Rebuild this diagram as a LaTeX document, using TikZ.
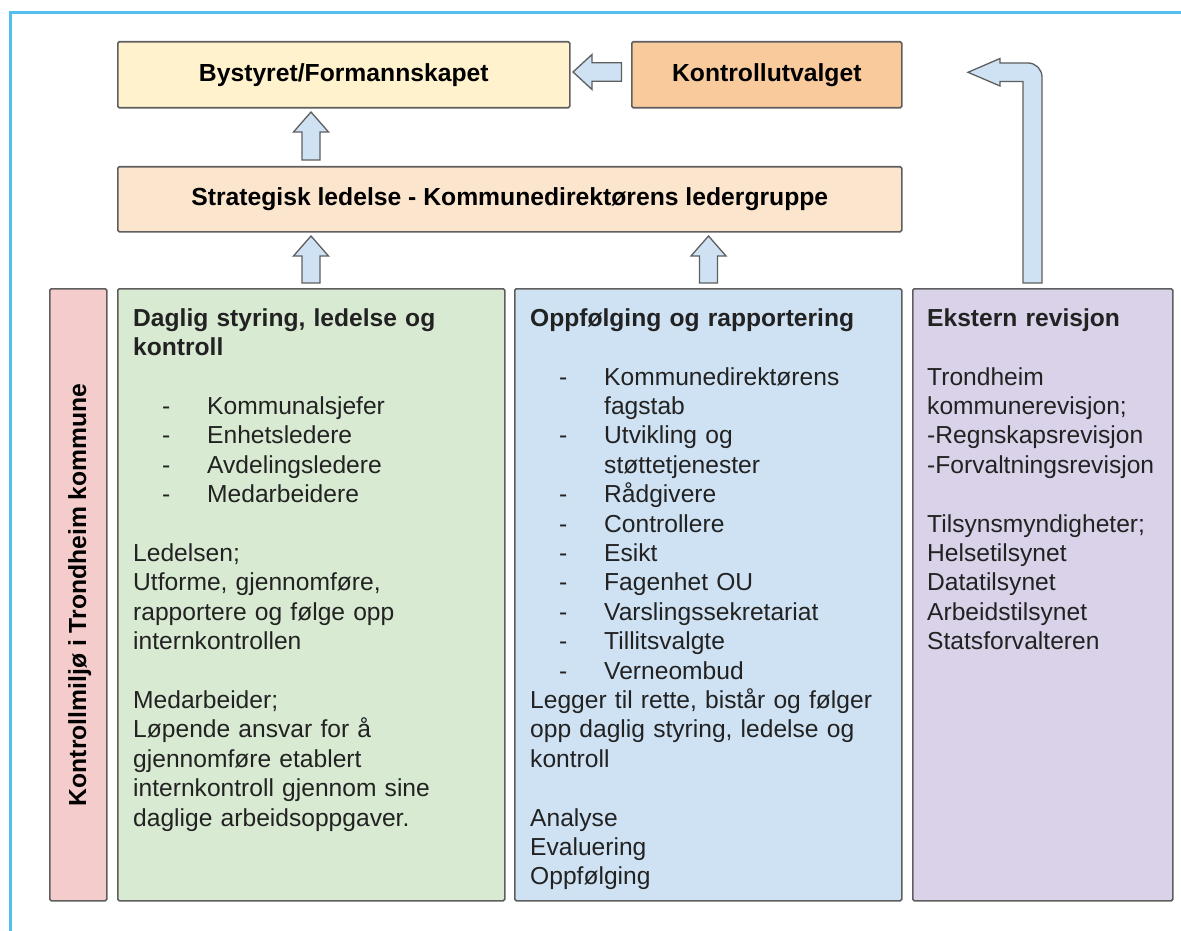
\documentclass[tikz,border=0pt]{standalone}
\usepackage{fontspec}
\setmainfont{Liberation Sans}
\definecolor{frameC}{HTML}{55C0F0}
\definecolor{boxC}{HTML}{5E5E5E}
\definecolor{cYellow}{HTML}{FFF2CC}
\definecolor{cOrange}{HTML}{F9CB9C}
\definecolor{cPeach}{HTML}{FCE5CD}
\definecolor{cPink}{HTML}{F4CCCC}
\definecolor{cGreen}{HTML}{D9EAD3}
\definecolor{cBlue}{HTML}{CFE2F3}
\definecolor{cPurple}{HTML}{D9D2E9}
\definecolor{txtC}{HTML}{222222}
\newcommand\bodyf{\fontsize{24.6}{29.4}\selectfont}
\newcommand\titlef{\fontsize{24.7}{29.4}\selectfont\bfseries}
\newcommand\bl[1]{\makebox[74pt][l]{\hspace{29pt}-}#1}
\newcommand\cnt[1]{\hspace*{74pt}#1}
\newcommand\myup[3]{\draw[barrow] (#1-9,#3) -- (#1-9,#2+20) -- (#1-17.5,#2+20) -- (#1,#2) -- (#1+17.5,#2+20) -- (#1+9,#2+20) -- (#1+9,#3) -- cycle;}
\begin{document}
\begin{tikzpicture}[x=1pt,y=-1pt,
  box/.style={draw=boxC, line width=1.6pt, rounded corners=1.5pt, inner sep=0pt, anchor=north west, text=black},
  coltext/.style={anchor=north west, align=left, inner sep=0pt, font=\bodyf, text=txtC},
  barrow/.style={fill=cBlue, draw=boxC, line width=1.3pt, line join=miter}]
\useasboundingbox (0,0) rectangle (1181,931);
\draw[frameC, line width=3pt] (10,931) -- (10,13) -- (1181,13);

\node[box, fill=cYellow, minimum width=452, minimum height=66, font=\titlef] (byst) at (117,41) {Bystyret/Formannskapet};
\node[box, fill=cOrange, minimum width=270, minimum height=66, font=\titlef] (kontr) at (631,41) {Kontrollutvalget};
\node[box, fill=cPeach, minimum width=784, minimum height=65, font=\titlef] (strat) at (117,166) {Strategisk ledelse - Kommunedirektørens ledergruppe};

\node[box, fill=cPink, minimum width=57, minimum height=612] (pink) at (49,288) {};
\node[box, fill=cGreen, minimum width=387, minimum height=612] (green) at (117,288) {};
\node[box, fill=cBlue, minimum width=387, minimum height=612] (blue) at (514,288) {};
\node[box, fill=cPurple, minimum width=260, minimum height=612] (purple) at (912,288) {};

\node[rotate=90, font=\titlef, inner sep=0pt] (pinktxt) at ([xshift=1.5pt]pink.center) {Kontrollmiljø i Trondheim kommune};

\node[coltext, text width=365] (greentxt) at (133,304) {\rule{0pt}{22pt}\textbf{Daglig styring, ledelse og}\\
\textbf{kontroll}\\
~\\
\bl{Kommunalsjefer}\\
\bl{Enhetsledere}\\
\bl{Avdelingsledere}\\
\bl{Medarbeidere}\\
~\\
Ledelsen;\\
Utforme, gjennomføre,\\
rapportere og følge opp\\
internkontrollen\\
~\\
Medarbeider;\\
Løpende ansvar for å\\
gjennomføre etablert\\
internkontroll gjennom sine\\
daglige arbeidsoppgaver.};

\node[coltext, text width=365] (bluetxt) at (530,304) {\rule{0pt}{22pt}\textbf{Oppfølging og rapportering}\\
~\\
\bl{Kommunedirektørens}\\
\cnt{fagstab}\\
\bl{Utvikling og}\\
\cnt{støttetjenester}\\
\bl{Rådgivere}\\
\bl{Controllere}\\
\bl{Esikt}\\
\bl{Fagenhet OU}\\
\bl{Varslingssekretariat}\\
\bl{Tillitsvalgte}\\
\bl{Verneombud}\\
Legger til rette, bistår og følger\\
opp daglig styring, ledelse og\\
kontroll\\
~\\
Analyse\\
Evaluering\\
Oppfølging};

\node[coltext, text width=240] (purpletxt) at (927,304) {\rule{0pt}{22pt}\textbf{Ekstern revisjon}\\
~\\
Trondheim\\
kommunerevisjon;\\
-Regnskapsrevisjon\\
-Forvaltningsrevisjon\\
~\\
Tilsynsmyndigheter;\\
Helsetilsynet\\
Datatilsynet\\
Arbeidstilsynet\\
Statsforvalteren};

% block arrows
\myup{311}{112}{160}
\myup{311}{236}{283}
\myup{708.5}{236}{283}
\draw[barrow] (621.5,62.8) -- (592,62.8) -- (592,54.5) -- (573,72) -- (592,89.5) -- (592,81.2) -- (621.5,81.2) -- cycle;
\draw[barrow] (1023,283) -- (1023,81.5) -- (1000,81.5) -- (1000,86) -- (968,72.3) -- (1000,58.5) -- (1000,63) -- (1028,63) .. controls (1035.7,63) and (1042,69.3) .. (1042,77) -- (1042,283) -- cycle;
\end{tikzpicture}
\end{document}
